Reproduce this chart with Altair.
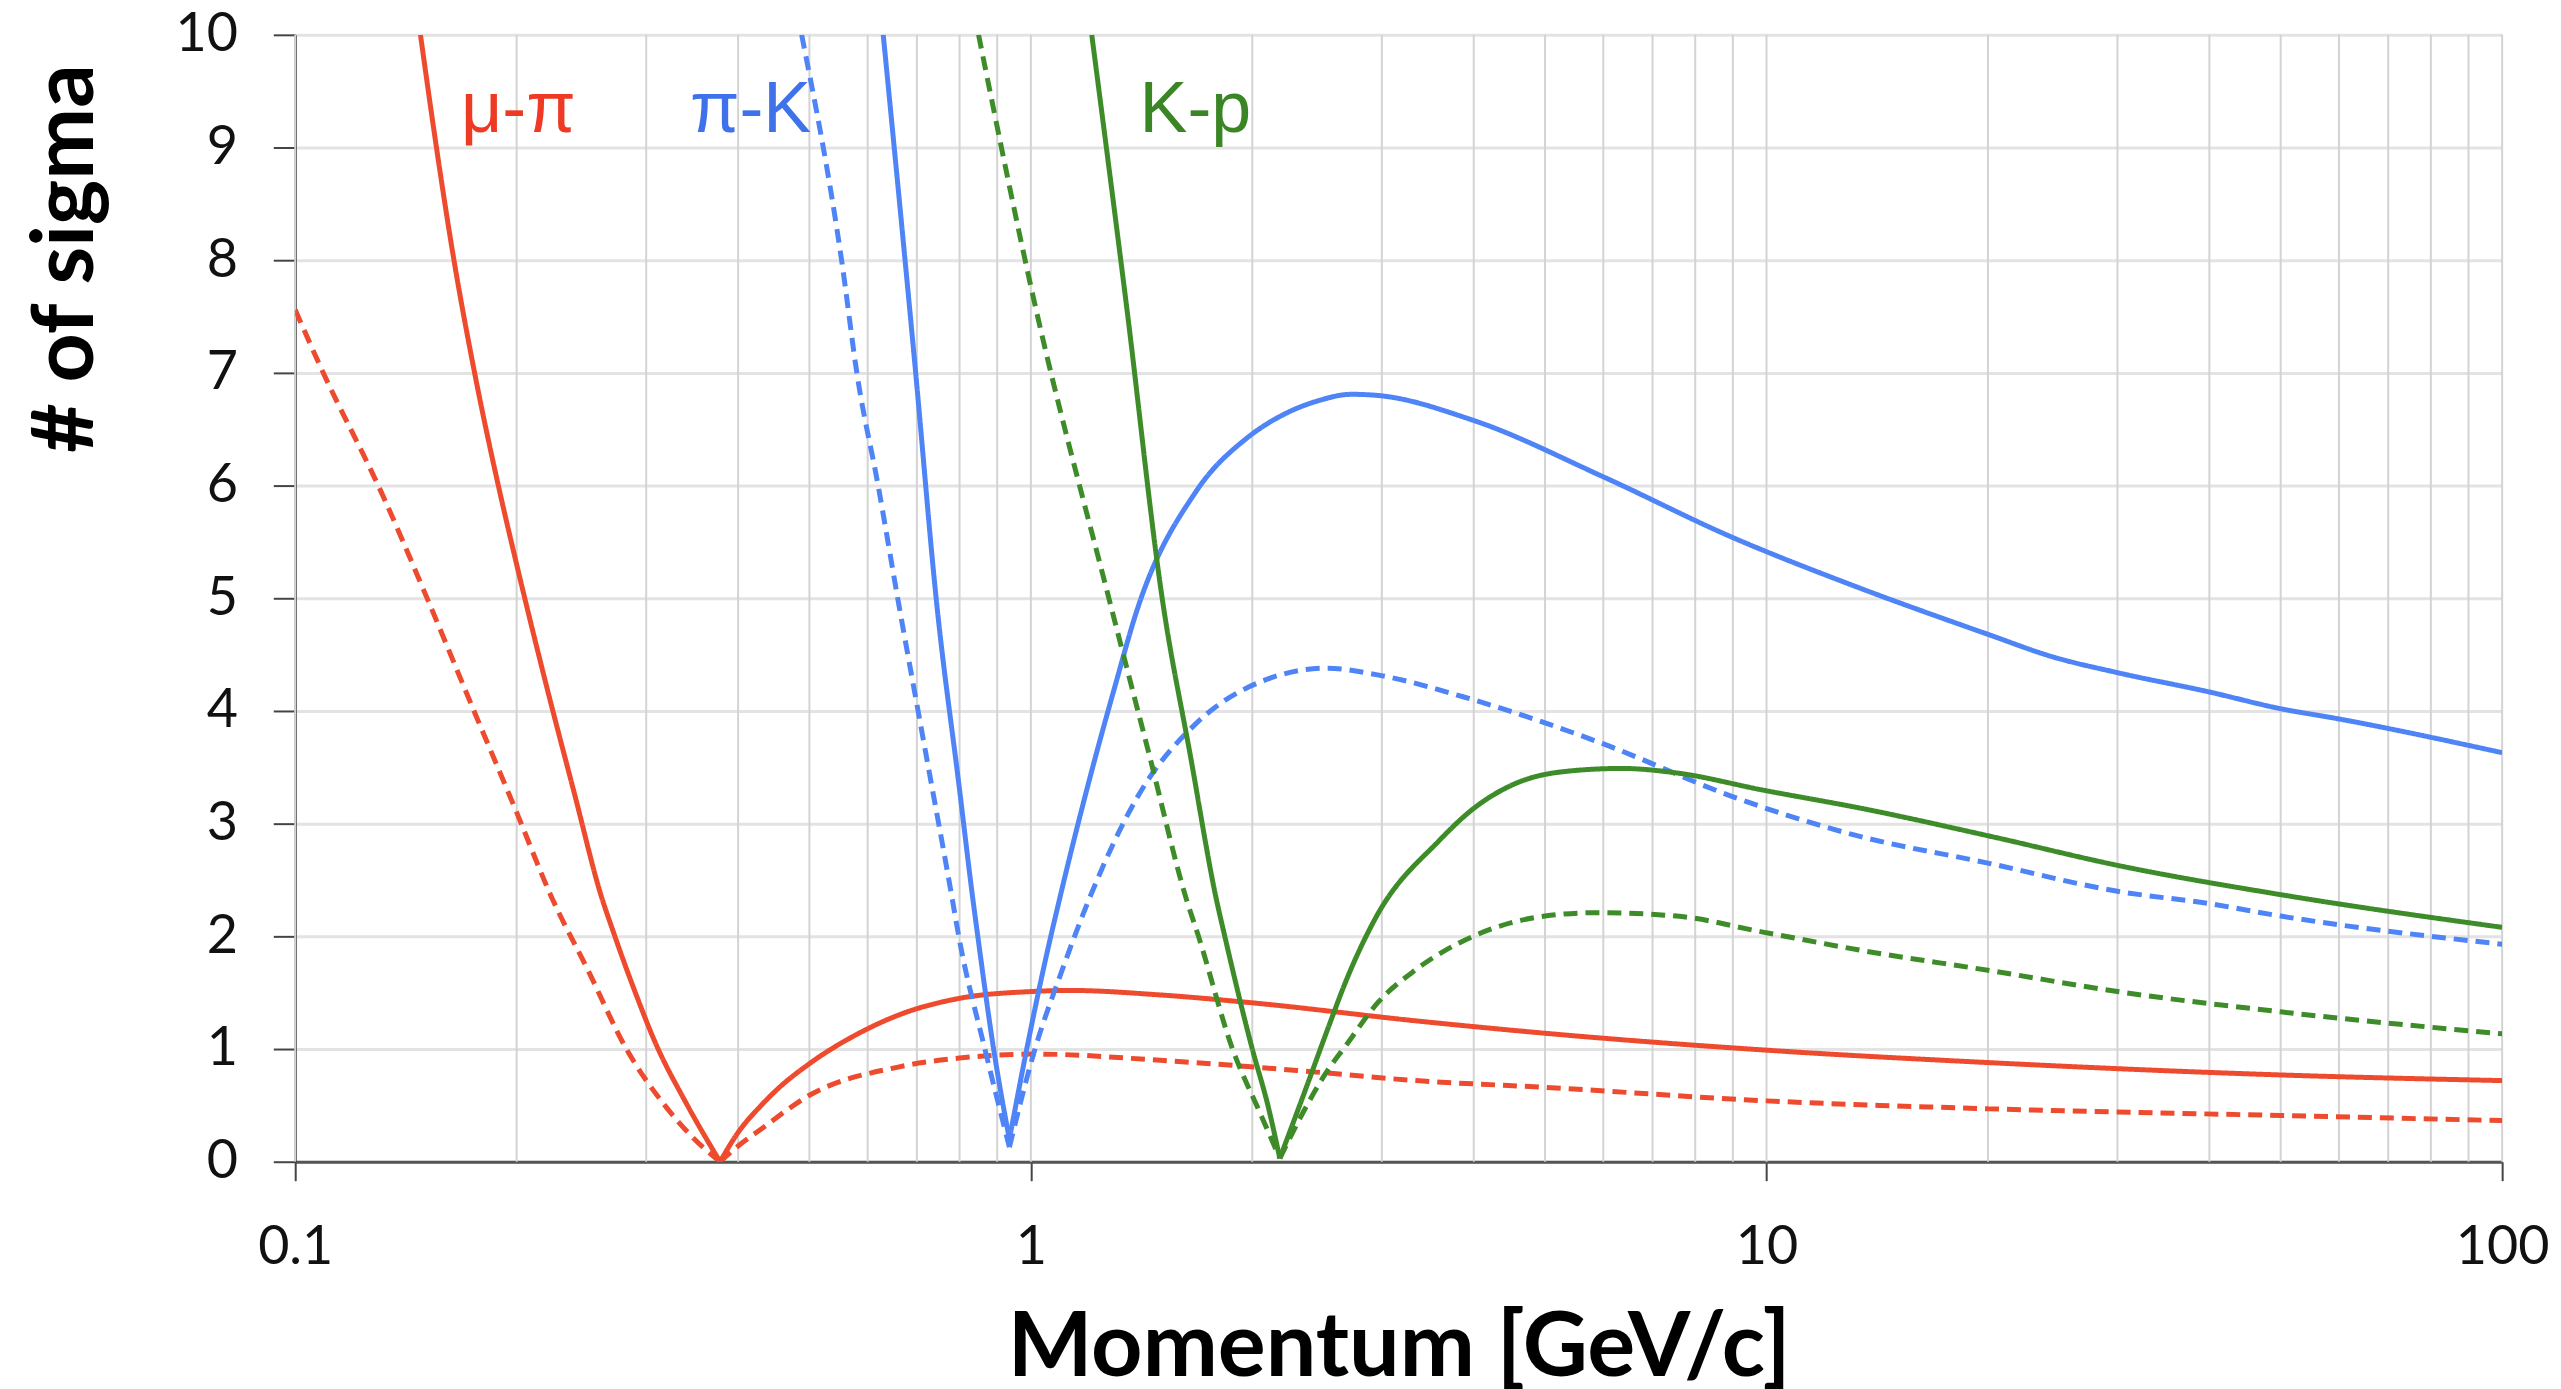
import altair as alt
import pandas as pd

# ---------------- data (momentum in GeV/c, separation in sigma) -------------
# mu-pi, solid
MUPI_SOLID_LEFT_P = [0.148, 0.156, 0.1634, 0.1757, 0.1887, 0.2, 0.22, 0.24, 0.26, 0.271, 0.29, 0.309, 0.34, 0.378]
MUPI_SOLID_LEFT_V = [10, 8.95, 8.1, 6.97, 6.01, 5.3, 4.2, 3.25, 2.38, 2.03, 1.5, 1.05, 0.52, 0]
MUPI_SOLID_RIGHT_P = [0.378, 0.40, 0.43, 0.45, 0.5, 0.58, 0.66, 0.8, 1.0, 1.13, 1.5, 2.0, 3.34, 5, 10, 20, 50, 100]
MUPI_SOLID_RIGHT_V = [0, 0.26, 0.5, 0.63, 0.87, 1.13, 1.30, 1.45, 1.51, 1.52, 1.48, 1.41, 1.25, 1.14, 0.99, 0.88, 0.77, 0.72]
# mu-pi, dashed
MUPI_DASH_LEFT_P = [0.1, 0.1083, 0.1318, 0.15, 0.175, 0.2, 0.223, 0.25, 0.282, 0.318, 0.349, 0.378]
MUPI_DASH_LEFT_V = [7.56, 7.05, 5.9, 5.05, 4.0, 3.1, 2.35, 1.7, 1.0, 0.5, 0.2, 0]
MUPI_DASH_RIGHT_P = [0.378, 0.40, 0.43, 0.5, 0.66, 0.8, 1.02, 1.5, 2.3, 3.34, 5, 10, 20, 50, 100]
MUPI_DASH_RIGHT_V = [0, 0.14, 0.29, 0.59, 0.84, 0.92, 0.955, 0.9, 0.81, 0.72, 0.66, 0.54, 0.47, 0.41, 0.365]
# pi-K, solid
PIK_SOLID_LEFT_P = [0.63, 0.698, 0.744, 0.80, 0.834, 0.847, 0.89, 0.935]
PIK_SOLID_LEFT_V = [10, 6.97, 4.98, 3.3, 2.33, 2.0, 1.0, 0.2]
PIK_SOLID_RIGHT_P = [0.935, 0.99, 1.045, 1.093, 1.2, 1.3, 1.395, 1.678, 1.974, 2.19, 2.45, 2.73, 2.96, 3.99, 5.99,
                     8.99, 13.15, 20, 24.5, 30, 39.9, 50, 59.9, 100]
PIK_SOLID_RIGHT_V = [0.2, 1.04, 1.77, 2.32, 3.38, 4.21, 4.9, 5.95, 6.43, 6.62, 6.75, 6.81, 6.80, 6.58, 6.08,
                     5.54, 5.11, 4.68, 4.48, 4.34, 4.17, 4.02, 3.93, 3.63]
# pi-K, dashed
PIK_DASH_LEFT_P = [0.488, 0.553, 0.581, 0.62, 0.66, 0.72, 0.782, 0.798, 0.866, 0.935]
PIK_DASH_LEFT_V = [10, 8, 6.97, 6, 4.98, 3.62, 2.33, 2.0, 1.0, 0.13]
PIK_DASH_RIGHT_P = [0.935, 1.013, 1.1, 1.2, 1.4, 1.678, 1.974, 2.53, 2.96, 3.99, 5.99, 8.99, 13.15, 20, 30, 40, 50, 100]
PIK_DASH_RIGHT_V = [0.13, 1.0, 1.68, 2.33, 3.25, 3.89, 4.21, 4.38, 4.32, 4.10, 3.71, 3.24, 2.90, 2.65, 2.40, 2.29, 2.18, 1.93]
# K-p, solid
KP_SOLID_LEFT_P = [1.21, 1.35, 1.51, 1.65, 1.787, 1.835, 2.0, 2.1, 2.18]
KP_SOLID_LEFT_V = [10, 7.58, 4.98, 3.58, 2.33, 2.0, 1.0, 0.5, 0.03]
KP_SOLID_RIGHT_P = [2.18, 2.35, 2.54, 2.68, 2.94, 3.59, 3.99, 4.5, 5.27, 6.36, 7.55, 9.85, 13.6, 20.4, 30, 50, 100]
KP_SOLID_RIGHT_V = [0.03, 0.6, 1.2, 1.6, 2.16, 2.85, 3.13, 3.34, 3.46, 3.49, 3.45, 3.30, 3.13, 2.88, 2.63, 2.37, 2.08]
# K-p, dashed
KP_DASH_LEFT_P = [0.849, 1.015, 1.279, 1.45, 1.627, 1.69, 1.88, 2.05, 2.18]
KP_DASH_LEFT_V = [10, 7.58, 4.98, 3.6, 2.33, 2.0, 1.0, 0.43, 0.03]
KP_DASH_RIGHT_P = [2.18, 2.35, 2.52, 2.68, 2.97, 3.33, 3.99, 5.0, 5.88, 7.55, 9.85, 13.6, 20.4, 30, 50, 100]
KP_DASH_RIGHT_V = [0.03, 0.45, 0.79, 1.03, 1.42, 1.70, 2.0, 2.18, 2.21, 2.18, 2.04, 1.87, 1.69, 1.51, 1.33, 1.135]

PAIRS = ["mu_pi", "pi_K", "K_p"]
PAIR_COLORS = ["#EE4A2E", "#4F84F6", "#3E8C29"]

LABEL_TEXT = ["μ-π", "π-K", "K-p"]
LABEL_P = [0.168, 0.344, 1.405]
LABEL_V = [9.14, 9.14, 9.14]
LABEL_COLORS = ["#EE3A24", "#3F72EA", "#3A8524"]

X_TICKS = [0.1, 1, 10, 100]
Y_TICKS = list(range(0, 11))
X_GRID = [m * d for d in (0.1, 1, 10) for m in range(1, 10)] + [100]

# ---------------- build tables ----------------
rows = []


def add(pair, style, branch, ps, vs):
    for i, (p, v) in enumerate(zip(ps, vs)):
        rows.append(dict(p=p, v=v, pair=pair, style=style, grp=f"{pair}|{style}|{branch}", order=i))


add("mu_pi", "solid", "L", MUPI_SOLID_LEFT_P, MUPI_SOLID_LEFT_V)
add("mu_pi", "solid", "R", MUPI_SOLID_RIGHT_P, MUPI_SOLID_RIGHT_V)
add("mu_pi", "dashed", "L", MUPI_DASH_LEFT_P, MUPI_DASH_LEFT_V)
add("mu_pi", "dashed", "R", MUPI_DASH_RIGHT_P, MUPI_DASH_RIGHT_V)
add("pi_K", "solid", "L", PIK_SOLID_LEFT_P, PIK_SOLID_LEFT_V)
add("pi_K", "solid", "R", PIK_SOLID_RIGHT_P, PIK_SOLID_RIGHT_V)
add("pi_K", "dashed", "L", PIK_DASH_LEFT_P, PIK_DASH_LEFT_V)
add("pi_K", "dashed", "R", PIK_DASH_RIGHT_P, PIK_DASH_RIGHT_V)
add("K_p", "solid", "L", KP_SOLID_LEFT_P, KP_SOLID_LEFT_V)
add("K_p", "solid", "R", KP_SOLID_RIGHT_P, KP_SOLID_RIGHT_V)
add("K_p", "dashed", "L", KP_DASH_LEFT_P, KP_DASH_LEFT_V)
add("K_p", "dashed", "R", KP_DASH_RIGHT_P, KP_DASH_RIGHT_V)

lines_df = pd.DataFrame(rows)
grid_df = pd.DataFrame({"p": X_GRID})
labels_df = pd.DataFrame({"label": LABEL_TEXT, "p": LABEL_P, "v": LABEL_V, "color": LABEL_COLORS})

W, H = 2213, 1130

x_scale = alt.Scale(type="log", domain=[0.1, 100], nice=False)
y_scale = alt.Scale(domain=[0, 10], nice=False, zero=False)

x_axis = alt.Axis(
    values=X_TICKS, format="~g", grid=False,
    domainColor="#555555", domainWidth=3,
    tickSize=19, tickColor="#444444", tickWidth=2,
    labelFont="Lato", labelFontSize=54, labelColor="#111111", labelPadding=40,
    labelFlush=False, labelOverlap=False,
    title="Momentum [GeV/c]", titleFont="Lato", titleFontSize=90, titleFontWeight="bold",
    titleColor="#000000", titleBaseline="alphabetic", titleAlign="center",
    titleX=W / 2, titleY=214,
)
y_axis = alt.Axis(
    values=Y_TICKS, grid=True, gridColor="#e3e3e3", gridWidth=3,
    domainColor="#111111", domainWidth=2,
    tickSize=22, tickColor="#444444", tickWidth=2,
    labelFont="Lato", labelFontSize=54, labelColor="#111111", labelPadding=36,
    labelFlush=False, labelOverlap=False,
    title="# of sigma", titleFont="Lato", titleFontSize=86, titleFontWeight="bold",
    titleColor="#000000", titleAngle=270, titleAlign="center", titleBaseline="alphabetic",
    titleX=-203, titleY=224,
)

grid = alt.Chart(grid_df).mark_rule(color="#d3d3d3", strokeWidth=2).encode(
    x=alt.X("p:Q", scale=x_scale, axis=x_axis),
)

lines = alt.Chart(lines_df).mark_line(strokeWidth=5, interpolate="monotone", clip=True).encode(
    x=alt.X("p:Q", scale=x_scale, axis=x_axis),
    y=alt.Y("v:Q", scale=y_scale, axis=y_axis),
    color=alt.Color("pair:N", scale=alt.Scale(domain=PAIRS, range=PAIR_COLORS), legend=None),
    strokeDash=alt.StrokeDash("style:N", scale=alt.Scale(domain=["solid", "dashed"], range=[[1, 0], [14, 8]]),
                              legend=None),
    detail="grp:N",
    order="order:Q",
)

texts = alt.Chart(labels_df).mark_text(
    align="left", baseline="alphabetic", font="Liberation Sans", fontSize=72
).encode(
    x=alt.X("p:Q", scale=x_scale, axis=x_axis),
    y=alt.Y("v:Q", scale=y_scale, axis=y_axis),
    text="label:N",
    color=alt.Color("color:N", scale=None),
)

chart = alt.layer(grid, lines, texts).properties(
    width=W, height=H,
    autosize=alt.AutoSizeParams(type="none"),
    padding={"left": 288, "top": 25, "right": 51, "bottom": 226},
    background="white",
).configure_view(stroke=None)

chart.save("out.html", embed_options={"renderer": "svg", "actions": False})
